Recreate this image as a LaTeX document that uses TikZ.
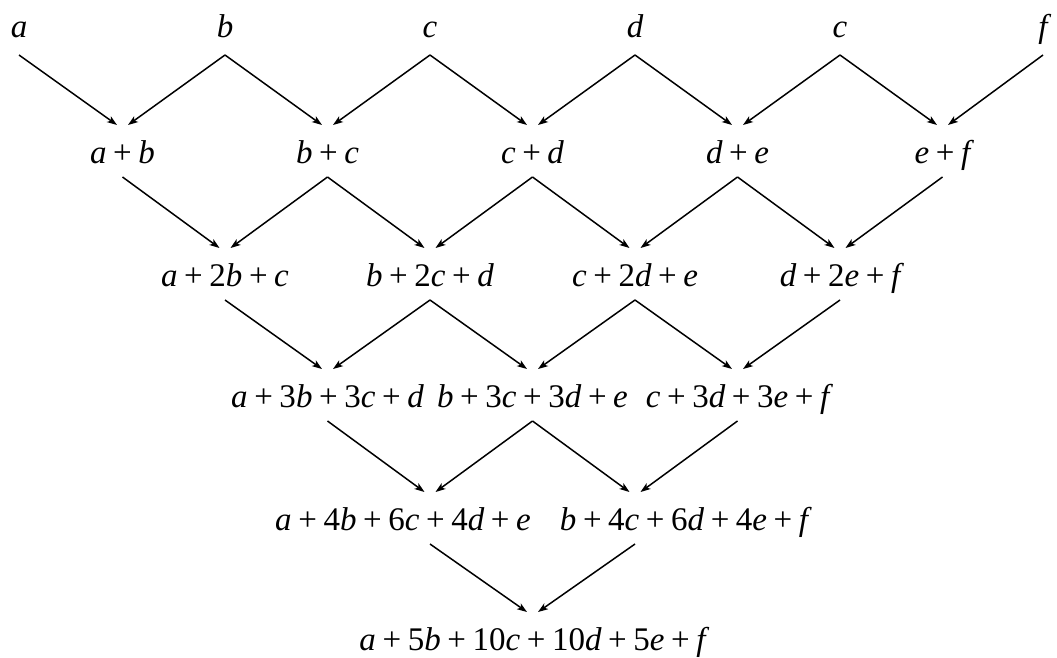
\documentclass[tikz,border=0pt]{standalone}
\usepackage{fontspec}
\setmainfont{Liberation Serif}
\newfontfamily\timesf{Liberation Serif}
\usetikzlibrary{arrows.meta}
\newcommand\iv[1]{{\itshape #1}}
\newcommand\pl{\kern.2em{\upshape+}\kern.2em}
\begin{document}
\begin{tikzpicture}[x=1pt,y=-1pt,
  lbl/.style={anchor=base, inner sep=0pt, outer sep=0pt, text height=38pt, text depth=14pt, font=\timesf\fontsize{33}{40}\selectfont},
  toplbl/.style={lbl, text depth=18pt},
  arr/.style={-{Stealth[length=10pt,width=7pt,inset=2.5pt]}, line width=1.5pt}]
\useasboundingbox (0,0) rectangle (1057,657);
% row 0
\node[toplbl] (n00) at (19,37)   {\iv{a}};
\node[toplbl] (n01) at (225,37)  {\iv{b}};
\node[toplbl] (n02) at (430,37)  {\iv{c}};
\node[toplbl] (n03) at (635,37)  {\iv{d}};
\node[toplbl] (n04) at (840,37)  {\iv{c}};
\node[toplbl] (n05) at (1043,37) {\iv{f}};
% row 1
\node[lbl] (n10) at (122.5,163) {\iv{a}\pl\iv{b}};
\node[lbl] (n11) at (327.5,163) {\iv{b}\pl\iv{c}};
\node[lbl] (n12) at (532.5,163) {\iv{c}\pl\iv{d}};
\node[lbl] (n13) at (737.5,163) {\iv{d}\pl\iv{e}};
\node[lbl] (n14) at (942.5,163) {\iv{e}\pl\iv{f}};
% row 2
\node[lbl] (n20) at (225,286) {\iv{a}\pl 2\iv{b}\pl\iv{c}};
\node[lbl] (n21) at (430,286) {\iv{b}\pl 2\iv{c}\pl\iv{d}};
\node[lbl] (n22) at (635,286) {\iv{c}\pl 2\iv{d}\pl\iv{e}};
\node[lbl] (n23) at (840,286) {\iv{d}\pl 2\iv{e}\pl\iv{f}};
% row 3
\node[lbl] (n30) at (327.5,407) {\iv{a}\pl 3\iv{b}\pl 3\iv{c}\pl\iv{d}};
\node[lbl] (n31) at (532.5,407) {\iv{b}\pl 3\iv{c}\pl 3\iv{d}\pl\iv{e}};
\node[lbl] (n32) at (737.5,407) {\iv{c}\pl 3\iv{d}\pl 3\iv{e}\pl\iv{f}};
% row 4
\node[lbl] (n40) at (403,530) {\iv{a}\pl 4\iv{b}\pl 6\iv{c}\pl 4\iv{d}\pl\iv{e}};
\node[lbl] (n41) at (684,530) {\iv{b}\pl 4\iv{c}\pl 6\iv{d}\pl 4\iv{e}\pl\iv{f}};
% row 5
\node[lbl] (n50) at (532.5,650) {\iv{a}\pl 5\iv{b}\pl 10\iv{c}\pl 10\iv{d}\pl 5\iv{e}\pl\iv{f}};
% arrows row 0 -> 1
\foreach \i [evaluate=\i as \j using int(\i-1)] in {1,...,5}
  \draw[arr] (n0\i.south) -- ([xshift=5.5pt]n1\j.north);
\foreach \i in {0,...,4}
  \draw[arr] (n0\i.south) -- ([xshift=-5.5pt]n1\i.north);
% arrows row 1 -> 2
\foreach \i [evaluate=\i as \j using int(\i-1)] in {1,...,4}
  \draw[arr] (n1\i.south) -- ([xshift=5.5pt]n2\j.north);
\foreach \i in {0,...,3}
  \draw[arr] (n1\i.south) -- ([xshift=-5.5pt]n2\i.north);
% arrows row 2 -> 3
\foreach \i [evaluate=\i as \j using int(\i-1)] in {1,...,3}
  \draw[arr] (n2\i.south) -- ([xshift=5.5pt]n3\j.north);
\foreach \i in {0,...,2}
  \draw[arr] (n2\i.south) -- ([xshift=-5.5pt]n3\i.north);
% arrows row 3 -> 4
\draw[arr] (n30.south) -- ([xshift=21.5pt]n40.north);
\draw[arr] (n31.south) -- ([xshift=32.5pt]n40.north);
\draw[arr] (n31.south) -- ([xshift=-54.5pt]n41.north);
\draw[arr] (n32.south) -- ([xshift=-43.5pt]n41.north);
% arrows row 4 -> 5
\draw[arr] ([xshift=27pt]n40.south) -- ([xshift=-5.5pt]n50.north);
\draw[arr] ([xshift=-49pt]n41.south) -- ([xshift=5.5pt]n50.north);
\end{tikzpicture}
\end{document}
